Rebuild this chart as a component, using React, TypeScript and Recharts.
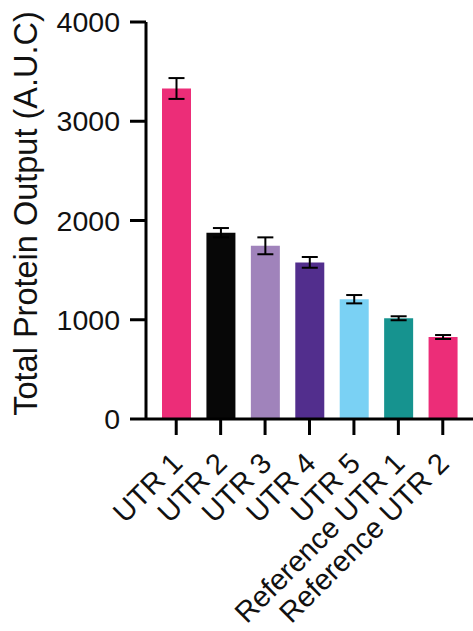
import React from 'react'
import { BarChart, Bar, XAxis, YAxis, ErrorBar, Cell, Label } from 'recharts'

const categories = ['UTR 1', 'UTR 2', 'UTR 3', 'UTR 4', 'UTR 5', 'Reference UTR 1', 'Reference UTR 2']
const output = [3330, 1877, 1745, 1578, 1207, 1015, 826]
const errors = [105, 47, 85, 54, 42, 20, 20]
const colors = ['#ec2d78', '#070707', '#a083bb', '#522e8d', '#7ad1f4', '#16938f', '#ec2d78']
const yTicks = [0, 1000, 2000, 3000, 4000]

const data = categories.map((name, i) => ({ name, value: output[i], err: errors[i] }))

const FONT = '"Liberation Sans", Arial, sans-serif'

function XTick(props: any) {
  const { x, y, payload } = props
  // anchor the end of the rotated label just right of and below the tick
  const px = x + 8
  const py = y + 30
  return (
    <text
      x={px}
      y={py}
      transform={`rotate(-45, ${px}, ${py})`}
      textAnchor="end"
      fontSize={29}
      fontFamily={FONT}
      fill="#111"
    >
      {payload.value}
    </text>
  )
}

export default function App() {
  return (
    <div style={{ position: 'absolute', left: 0, top: 0, background: '#fff' }}>
      <BarChart
        width={473}
        height={631}
        data={data}
        margin={{ top: 22, right: 0, bottom: 0, left: 0 }}
        barSize={29}
      >
        <XAxis
          dataKey="name"
          interval={0}
          height={212}
          padding={{ left: 8, right: 8 }}
          axisLine={{ stroke: '#000', strokeWidth: 3 }}
          tickLine={{ stroke: '#000', strokeWidth: 3 }}
          tickSize={16}
          tickMargin={0}
          tick={<XTick />}
        />
        <YAxis
          width={146}
          domain={[0, 4000]}
          ticks={yTicks}
          interval={0}
          axisLine={{ stroke: '#000', strokeWidth: 3 }}
          tickLine={{ stroke: '#000', strokeWidth: 3 }}
          tickSize={16}
          tickMargin={10}
          tick={{ fontSize: 28.5, fontFamily: FONT, fill: '#111' }}
        >
          <Label
            content={({ viewBox }: any) => {
              const cx = 37
              const cy = viewBox.y + viewBox.height / 2 - 7
              return (
                <text
                  x={cx}
                  y={cy}
                  transform={`rotate(-90, ${cx}, ${cy})`}
                  textAnchor="middle"
                  fontSize={32.5}
                  fontFamily={FONT}
                  fill="#111"
                >
                  Total Protein Output (A.U.C)
                </text>
              )
            }}
          />
        </YAxis>
        <Bar dataKey="value" isAnimationActive={false}>
          {data.map((d, i) => (
            <Cell key={d.name} fill={colors[i]} />
          ))}
          <ErrorBar dataKey="err" width={8} stroke="#000" strokeWidth={2} direction="y" />
        </Bar>
      </BarChart>
    </div>
  )
}
